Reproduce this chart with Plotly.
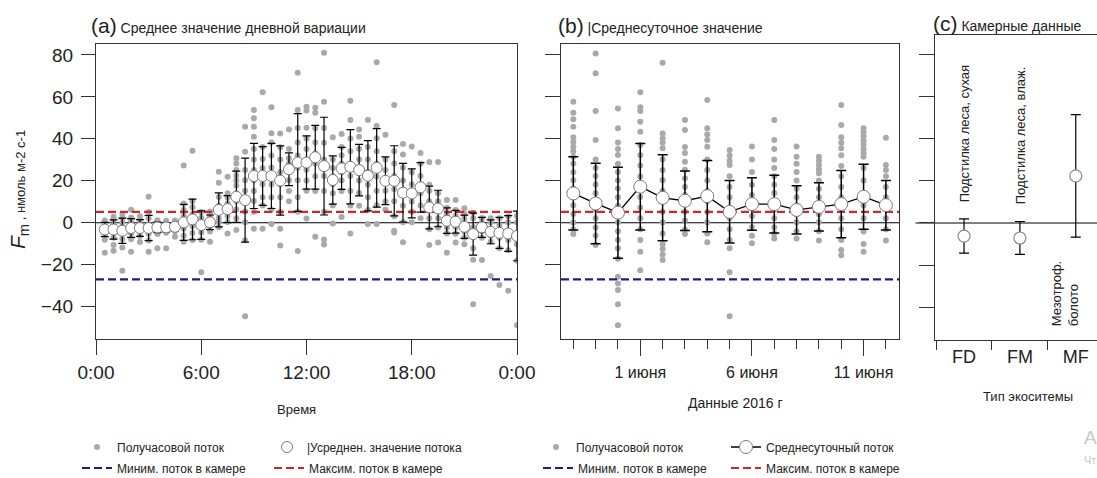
import plotly.graph_objects as go

W, H = 1097, 478
MT, MB = 35, 138
PH = H - MT - MB


def px(p):
    return p / W


def py(p):
    return (H - MB - p) / PH


# ---------------- DATA ----------------
# Panel (a): half-hour slots 0:30 ... 24:00
a_hours = [0.5 * (i + 1) for i in range(48)]
a_mean = [-3.2, -3.2, -3.8, -2.5, -2.5, -2.5, -2.2, -2.2, -1.9, 0.2, 1.6, -1.1,
          0.2, 6.1, 6.5, 12.4, 10.8, 22.3, 22.3, 22.3, 20.1, 25.5, 28.7, 28.7,
          31.2, 27.0, 20.4, 25.9, 26.7, 25.1, 22.4, 26.2, 20.0, 20.0, 14.3, 14.0,
          16.9, 7.3, 6.8, 1.0, 0.5, -1.9, -5.4, -2.2, -4.3, -4.8, -5.1, -6.3]
a_std = [3.4, 4.6, 6.0, 4.5, 4.0, 6.0, 2.5, 2.2, 2.0, 8.6, 9.7, 6.8,
         3.5, 8.1, 6.4, 12.2, 20.0, 15.5, 14.0, 15.5, 16.5, 7.8, 23.3, 12.7,
         15.2, 23.3, 11.5, 10.0, 17.7, 12.3, 16.7, 18.7, 11.4, 16.7, 14.0, 11.7,
         11.8, 10.2, 8.7, 6.1, 5.4, 5.5, 10.0, 4.8, 5.7, 7.4, 8.5, 11.8]
a_halfhour = [
    [-14.3, -8.1, -5.7, -3.9, -2.2, -0.4, 1.1, -3.0],
    [-13.3, -10.6, -7.2, -4.6, -2.8, -1.1, 1.3, 2.9],
    [-22.9, -11.8, -7.7, -4.4, -1.9, 0.3, 2.1, 4.2],
    [-13.8, -7.9, -5.1, -3.2, -0.8, 1.0, 2.4, 6.2],
    [-9.2, -6.3, -3.8, -2.1, 0.2, 1.3, 3.1],
    [-13.8, -8.4, -5.2, -2.7, -0.9, 2.2, 5.1, 12.4],
    [-12.2, -5.3, -3.1, -1.2, 0.3, 1.2],
    [-12.2, -4.8, -3.3, -1.8, 0.1, 0.9],
    [-6.7, -4.1, -2.4, -0.8, 0.4, 1.1],
    [-9.0, -6.2, -2.9, 0.4, 3.3, 6.1, 9.2, 27.3],
    [-8.2, -4.9, -1.7, 1.3, 4.2, 7.4, 10.3, 34.3],
    [-23.6, -8.1, -4.7, -2.2, 0.3, 2.4, 5.1],
    [-9.0, -4.2, -1.8, 0.4, 2.1, 3.8, 5.3],
    [-2.1, 0.3, 2.2, 4.9, 8.1, 12.3, 19.1, 24.3],
    [-5.1, 0.4, 3.2, 6.1, 9.3, 12.2, 14.1, 21.9],
    [-3.5, 2.1, 6.3, 10.2, 14.1, 17.8, 20.2, 22.4, 25.1, 28.2, 30.7],
    [-44.5, -8.3, 0.2, 5.4, 10.1, 15.2, 20.3, 25.1, 33.9, 45.8],
    [-2.8, 5.2, 10.4, 15.1, 20.3, 25.2, 30.1, 35.2, 41.0, 45.8, 49.8, 53.8],
    [-2.8, 8.2, 12.1, 18.3, 22.2, 26.1, 30.4, 36.1, 62.2],
    [-0.6, 6.2, 12.1, 18.2, 22.4, 26.3, 32.1, 38.2, 42.7, 55.0],
    [-10.8, -2.8, 5.1, 12.2, 18.3, 24.1, 30.2, 36.0, 42.6],
    [10.2, 15.1, 20.3, 24.2, 28.1, 30.7, 35.2, 44.5],
    [-13.4, 5.2, 12.1, 20.3, 26.2, 32.1, 38.3, 45.2, 53.8, 71.5],
    [2.0, 15.2, 20.1, 25.3, 30.2, 35.1, 40.2, 45.3, 53.5, 55.3],
    [-6.7, 15.1, 22.2, 28.3, 33.1, 38.2, 45.1, 52.4, 54.8],
    [-10.4, -8.0, 5.2, 15.1, 22.3, 30.2, 38.1, 45.2, 57.7, 81.0],
    [-0.4, 8.2, 14.1, 18.3, 22.2, 26.1, 30.2, 40.7],
    [2.7, 15.1, 20.2, 24.1, 28.3, 32.2, 36.1, 42.3],
    [-5.1, 8.2, 15.1, 22.3, 28.2, 34.1, 40.2, 49.0, 58.2],
    [8.1, 14.2, 20.1, 25.2, 30.1, 35.3, 41.0, 44.5],
    [-0.6, 6.1, 12.2, 18.1, 24.3, 30.2, 36.1, 49.0],
    [-0.6, 8.3, 15.2, 22.1, 28.2, 34.1, 40.3, 46.1, 76.5],
    [6.2, 10.1, 15.3, 20.2, 25.1, 30.2, 41.9],
    [-4.6, -3.8, 3.1, 10.2, 16.1, 22.3, 28.2, 34.1, 56.1],
    [-9.3, 0.2, 8.1, 14.2, 20.1, 26.3, 32.5, 37.5],
    [0.3, 5.2, 10.1, 14.2, 18.3, 24.1, 36.4],
    [2.1, 8.2, 14.1, 18.2, 22.3, 28.1, 33.2],
    [-10.6, -3.1, 2.2, 6.1, 10.3, 15.2, 18.1, 29.0],
    [-9.4, -2.2, 2.1, 6.3, 10.2, 14.1, 29.0],
    [-14.3, -5.1, -2.2, 1.3, 4.1, 7.2, 10.8],
    [-9.4, -5.2, -2.1, 0.3, 3.2, 6.1, 10.8],
    [-10.2, -7.1, -4.2, -1.3, 2.1, 4.2, 6.9],
    [-38.8, -17.6, -12.1, -6.2, -2.1, 2.2, 4.8],
    [-17.8, -7.2, -4.1, -2.2, 0.1, 2.3],
    [-25.4, -9.1, -6.2, -3.1, 0.2, 2.1],
    [-29.7, -12.2, -7.1, -4.2, -1.1, 2.2],
    [-32.4, -13.1, -8.2, -4.1, 0.2, 3.1],
    [-48.8, -18.1, -10.2, -5.1, 0.3, 3.2],
]

# Chamber flux limits
chamber_min = -27.0
chamber_max = 5.2

# Panel (b): daily
b_days = ["2016-05-29", "2016-05-30", "2016-05-31", "2016-06-01", "2016-06-02",
          "2016-06-03", "2016-06-04", "2016-06-05", "2016-06-06", "2016-06-07",
          "2016-06-08", "2016-06-09", "2016-06-10", "2016-06-11", "2016-06-12"]
b_mean = [14.0, 9.2, 4.8, 17.2, 11.9, 10.5, 12.7, 5.2, 8.9, 8.9, 6.1, 7.6, 8.9, 12.4, 8.4]
b_std = [17.5, 19.2, 21.7, 20.6, 20.5, 14.2, 17.0, 14.9, 12.5, 13.8, 11.5, 11.5, 16.0, 15.5, 11.8]
b_halfhour = [
    [57.7, 52.4, 49.3, 45.8, 40.7, 38.5, 36.2, 34.1, 31.5, 28.2, 24.1, 20.3, 16.2, 12.1, 8.3, 4.2, 0.1, -3.2, -5.4],
    [80.7, 71.2, 53.3, 39.4, 30.2, 26.1, 22.3, 18.2, 14.1, 10.3, 6.2, 2.1, -2.2, -6.1, -10.6],
    [54.5, 45.0, 38.2, 35.1, 32.3, 28.1, 24.2, 20.1, 16.3, 12.2, 8.1, 4.3, 0.2, -4.1, -8.2, -12.1, -17.2, -25.7, -29.0, -32.1, -38.8, -48.8],
    [62.2, 55.1, 53.3, 48.2, 43.4, 37.1, 32.2, 27.3, 22.1, 17.2, 12.3, 7.1, 2.2, -3.1, -8.2, -13.8, -22.6],
    [76.3, 42.6, 40.2, 38.1, 35.5, 30.2, 25.1, 20.3, 15.2, 10.1, 5.3, 0.2, -5.1, -10.2, -12.5, -15.1, -17.8],
    [49.0, 44.2, 36.1, 33.2, 29.1, 25.3, 21.2, 17.1, 13.2, 9.1, 5.2, 1.1, -3.2, -5.4],
    [58.5, 45.0, 42.1, 39.4, 36.2, 30.1, 25.2, 20.1, 15.3, 10.2, 5.1, 0.2, -5.1, -9.3],
    [34.7, 32.1, 29.5, 27.5, 22.2, 17.1, 12.2, 7.1, 2.3, -3.1, -8.2, -12.2, -23.6, -44.5],
    [36.4, 30.1, 24.2, 18.1, 13.2, 8.1, 3.2, -2.1, -6.2, -9.8],
    [49.0, 39.4, 35.1, 30.2, 26.1, 22.2, 18.1, 14.2, 10.1, 6.2, 2.1, -2.2, -5.1, -7.5],
    [36.4, 31.5, 28.1, 24.2, 20.1, 16.2, 12.1, 8.2, 4.1, 0.2, -4.1, -7.5],
    [31.5, 29.5, 27.5, 25.5, 23.6, 20.1, 16.2, 12.1, 8.2, 4.1, 0.2, -4.1, -8.5],
    [56.1, 46.6, 40.7, 38.1, 35.5, 32.2, 27.1, 22.2, 17.1, 12.2, 7.1, 2.2, -3.1, -8.2, -13.0, -15.5],
    [45.0, 43.1, 41.2, 39.1, 37.2, 35.1, 33.2, 31.5, 26.1, 20.2, 14.1, 8.2, 2.1, -4.2, -10.1, -13.8],
    [40.5, 27.5, 25.1, 22.2, 17.1, 12.2, 7.1, 2.2, -3.1, -8.5],
]

# Panel (c): chamber data
c_types = ["FD", "FM", "MF"]
c_mean = [-6.2, -7.1, 22.3]
c_err = [8.1, 7.8, 29.0]
c_labels = ["Подстилка леса, сухая", "Подстилка леса, влаж.", "Мезотроф.<br>болото"]

# ---------------- STYLE ----------------
FONT = "Liberation Sans, Arial, sans-serif"
AX = "#333333"
DOT = "#a9a9a9"
BLUE = "#1c1c8f"
RED = "#d2262b"
CIRC_EDGE = "#7a7a7a"

fig = go.Figure()

# ---------- panel a ----------
ax_x, ax_y = [], []
for h, vals in zip(a_hours, a_halfhour):
    for v in vals:
        ax_x.append(h)
        ax_y.append(v)
fig.add_trace(go.Scatter(x=ax_x, y=ax_y, mode="markers", xaxis="x", yaxis="y",
                         marker=dict(color=DOT, size=6), name="Получасовой поток",
                         legend="legend"))
fig.add_trace(go.Scatter(x=[0, 24], y=[chamber_min, chamber_min], mode="lines",
                         xaxis="x", yaxis="y", line=dict(color=BLUE, width=2.2, dash="8px,4px"),
                         name="Миним. поток в камере", legend="legend3"))
fig.add_trace(go.Scatter(x=[0, 24], y=[chamber_max, chamber_max], mode="lines",
                         xaxis="x", yaxis="y", line=dict(color=RED, width=2.2, dash="8px,4px"),
                         name="Максим. поток в камере", legend="legend4"))
fig.add_trace(go.Scatter(x=a_hours, y=a_mean, mode="markers", xaxis="x", yaxis="y",
                         marker=dict(color="white", size=11, line=dict(color=CIRC_EDGE, width=1)),
                         error_y=dict(type="data", array=a_std, color="black", thickness=1.2, width=4),
                         name="|Усреднен. значение потока", legend="legend2"))

# ---------- panel b ----------
bx, by = [], []
for d, vals in zip(b_days, b_halfhour):
    for v in vals:
        bx.append(d)
        by.append(v)
b_range = ["2016-05-28 10:47", "2016-06-12 14:04"]
fig.add_trace(go.Scatter(x=bx, y=by, mode="markers", xaxis="x2", yaxis="y2",
                         marker=dict(color=DOT, size=6), name="Получасовой поток",
                         legend="legend5"))
fig.add_trace(go.Scatter(x=b_range, y=[chamber_min, chamber_min], mode="lines",
                         xaxis="x2", yaxis="y2", line=dict(color=BLUE, width=2.2, dash="8px,4px"),
                         name="Миним. поток в камере", legend="legend7"))
fig.add_trace(go.Scatter(x=b_range, y=[chamber_max, chamber_max], mode="lines",
                         xaxis="x2", yaxis="y2", line=dict(color=RED, width=2.2, dash="8px,4px"),
                         name="Максим. поток в камере", legend="legend8"))
fig.add_trace(go.Scatter(x=b_days, y=b_mean, mode="lines+markers", xaxis="x2", yaxis="y2",
                         line=dict(color="black", width=1.3),
                         marker=dict(color="white", size=13, line=dict(color=CIRC_EDGE, width=1)),
                         error_y=dict(type="data", array=b_std, color="black", thickness=1.5, width=5),
                         name="Среднесуточный поток", legend="legend6"))

# ---------- panel c ----------
fig.add_trace(go.Scatter(x=c_types, y=c_mean, mode="markers", xaxis="x3", yaxis="y3",
                         marker=dict(color="white", size=12, line=dict(color="#8a8a8a", width=1.2)),
                         error_y=dict(type="data", array=c_err, color="black", thickness=1.2, width=5),
                         showlegend=False))

yt = [-40, -20, 0, 20, 40, 60, 80]
dom_ab = [py(339), py(44)]
common_axis = dict(showline=True, linecolor=AX, linewidth=1.3, ticks="outside",
                   tickcolor=AX, tickwidth=1.3, showgrid=False, zeroline=False,
                   automargin=False)

fig.update_layout(
    template="none",
    width=W, height=H, margin=dict(l=0, r=0, t=MT, b=MB, autoexpand=False),
    paper_bgcolor="white", plot_bgcolor="white",
    font=dict(family=FONT, color="#222222"),
    xaxis=dict(domain=[px(96), px(517)], range=[0, 24], tickvals=[0, 6, 12, 18, 24],
               ticktext=["0:00", "6:00", "12:00", "18:00", "0:00"], ticklen=15,
               mirror=True, anchor="y", tickfont=dict(size=19), ticklabelstandoff=1,
               **common_axis),
    yaxis=dict(domain=dom_ab, range=[-55.4, 85.2], tickvals=yt, ticklen=14, mirror=True,
               anchor="x", tickfont=dict(size=19), ticklabelstandoff=4, **common_axis),
    xaxis2=dict(domain=[px(561), px(899)], type="date", range=b_range,
                tickvals=["2016-06-01", "2016-06-06", "2016-06-11"],
                ticktext=["1 июня", "6 июня", "11 июня"], ticklen=16, mirror=True,
                anchor="y2", tickfont=dict(size=16), ticklabelstandoff=3,
                minor=dict(ticks="outside", ticklen=9, dtick=86400000, tick0="2016-05-29",
                           tickcolor=AX, tickwidth=1.3, showgrid=False),
                **common_axis),
    yaxis2=dict(domain=dom_ab, range=[-55.4, 85.2], tickvals=yt, ticklen=15, mirror=True,
                anchor="x2", showticklabels=False, **common_axis),
    xaxis3=dict(domain=[px(935), 1.0], type="category", categoryarray=c_types,
                range=[-0.52, 2.38], tickson="boundaries", ticklen=9, mirror=True,
                anchor="y3", tickfont=dict(size=18), **common_axis),
    yaxis3=dict(domain=[0, 1], range=[-55.4, 89.0], tickvals=yt, ticklen=15, mirror=False,
                anchor="x3", showticklabels=False, **common_axis),
)

# zero lines
for xr, yr, x0 in [("x domain", "y", 0), ("x2 domain", "y2", 0), ("x3 domain", "y3", -0.12)]:
    fig.add_shape(type="line", xref=xr, yref=yr, x0=x0, x1=1, y0=0, y1=0,
                  line=dict(color="black", width=1.2), layer="below")

# legends: one entry each, placed like the reference's two-column legend blocks
leg_common = dict(orientation="h", xanchor="left", yanchor="middle", font=dict(size=12, color="#222"),
                  bgcolor="rgba(0,0,0,0)", itemwidth=30)
ROW1, ROW2 = py(447), py(468)
fig.update_layout(
    legend=dict(x=px(77), y=ROW1, **leg_common),
    legend2=dict(x=px(267), y=ROW1, **leg_common),
    legend3=dict(x=px(77), y=ROW2, **leg_common),
    legend4=dict(x=px(269), y=ROW2, **leg_common),
    legend5=dict(x=px(536), y=ROW1, **leg_common),
    legend6=dict(x=px(726), y=ROW1, **leg_common),
    legend7=dict(x=px(538), y=ROW2, **leg_common),
    legend8=dict(x=px(726), y=ROW2, **leg_common),
)

ann = []
# panel titles
ann.append(dict(x=px(89), y=py(26), xref="paper", yref="paper", xanchor="left", yanchor="middle",
                text="<span style='font-size:21px'>(a)</span> Среднее значение дневной вариации",
                showarrow=False, font=dict(size=14)))
ann.append(dict(x=px(556), y=py(26), xref="paper", yref="paper", xanchor="left", yanchor="middle",
                text="<span style='font-size:21px'>(b)</span> |Среднесуточное значение",
                showarrow=False, font=dict(size=14)))
ann.append(dict(x=px(931), y=py(23), xref="paper", yref="paper", xanchor="left", yanchor="middle",
                text="<span style='font-size:21px'>(c)</span> Камерные данные",
                showarrow=False, font=dict(size=14)))
# y title
ann.append(dict(x=px(19), y=py(190), xref="paper", yref="paper", xanchor="center", yanchor="middle",
                textangle=-90, showarrow=False, font=dict(size=21),
                text="<i>F</i><sub>m</sub><span style='font-size:13px'> , нмоль м-2 с-1</span>"))
# x titles
ann.append(dict(x=px(296), y=py(409), xref="paper", yref="paper", text="Время", showarrow=False,
                font=dict(size=13), xanchor="center", yanchor="middle"))
ann.append(dict(x=px(735), y=py(403), xref="paper", yref="paper", text="Данные 2016 г", showarrow=False,
                font=dict(size=14), xanchor="center", yanchor="middle"))
ann.append(dict(x=px(1028), y=py(397), xref="paper", yref="paper", text="Тип экоситемы", showarrow=False,
                font=dict(size=13), xanchor="center", yanchor="middle"))
# panel c vertical labels
ann.append(dict(x=0, y=42.0, xref="x3", yref="y3", text=c_labels[0], textangle=-90, showarrow=False,
                font=dict(size=13), xanchor="center", yanchor="middle"))
ann.append(dict(x=1, y=41.5, xref="x3", yref="y3", text=c_labels[1], textangle=-90, showarrow=False,
                font=dict(size=13), xanchor="center", yanchor="middle"))
ann.append(dict(x=1.82, y=-49.7, xref="x3", yref="y3", text=c_labels[2], textangle=-90, showarrow=False,
                font=dict(size=13), xanchor="center", yanchor="bottom", align="left"))
# faint watermark remnants
ann.append(dict(x=px(1082), y=py(437), xref="paper", yref="paper", text="А", showarrow=False,
                font=dict(size=19, color="#c8c8c8"), xanchor="left", yanchor="middle"))
ann.append(dict(x=px(1082), y=py(460), xref="paper", yref="paper", text="Чт", showarrow=False,
                font=dict(size=11, color="#c8c8c8"), xanchor="left", yanchor="middle"))
fig.update_layout(annotations=ann)

fig.write_html("out.html")
